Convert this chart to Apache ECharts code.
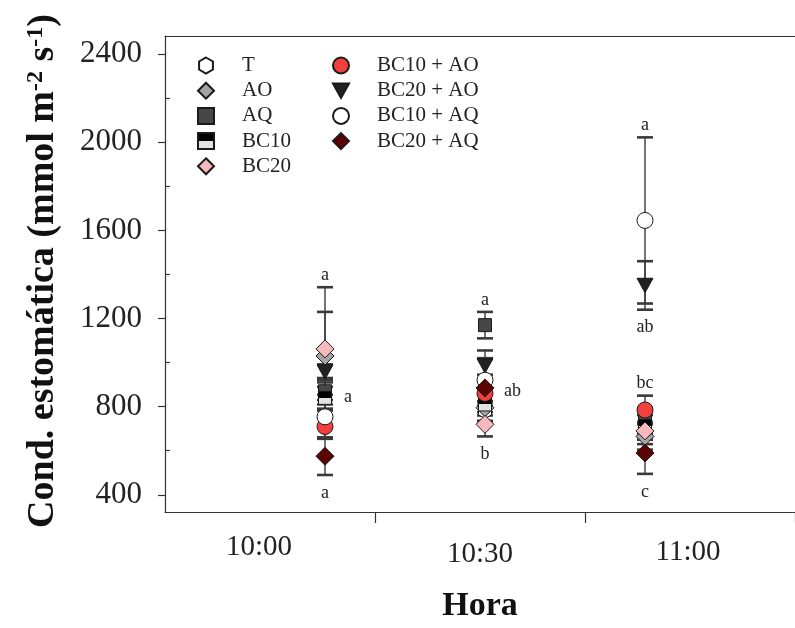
<!DOCTYPE html>
<html>
<head>
<meta charset="utf-8">
<script src="https://cdn.jsdelivr.net/npm/echarts@6/dist/echarts.min.js"></script>
<style>
  html, body { margin: 0; padding: 0; background: #ffffff; }
  #chart { width: 795px; height: 628px; }
</style>
</head>
<body>
<div id="chart"></div>
<script>
// Sampling times and their position on the time scale
const hours = ['10:00', '10:30', '11:00'];
const hourPos = [1, 2, 3];

// Y axis tick values (major labelled, minor unlabelled)
const yTicks = [400, 800, 1200, 1600, 2000, 2400];
const yMinorTicks = [600, 1000, 1400, 1800, 2200];

// Stomatal conductance (mmol m-2 s-1): mean and error per sampling time
const meanT = [850, 780, 680];
const errT = [60, 45, 50];
const meanAO = [1030, 795, 665];
const errAO = [200, 60, 60];
const meanAQ = [870, 1170, 735];
const errAQ = [60, 60, 60];
const meanBC10 = [840, 810, 712];
const errBC10 = [50, 50, 50];
const meanBC20 = [1062, 720, 690];
const errBC20 = [280, 55, 40];
const meanBC10AO = [710, 860, 785];
const errBC10AO = [50, 55, 65];
const meanBC20AO = [957, 985, 1350];
const errBC20AO = [35, 70, 110];
const meanBC10AQ = [754, 920, 1645];
const errBC10AQ = [100, 100, 377];
const meanBC20AQ = [575, 885, 590];
const errBC20AQ = [85, 60, 95];

// Treatment names, in plotting order
const treatmentNames = ['T', 'AO', 'AQ', 'BC10', 'BC20', 'BC10 + AO', 'BC20 + AO', 'BC10 + AQ', 'BC20 + AQ'];
const treatmentMeans = [meanT, meanAO, meanAQ, meanBC10, meanBC20, meanBC10AO, meanBC20AO, meanBC10AQ, meanBC20AQ];
const treatmentErrs = [errT, errAO, errAQ, errBC10, errBC20, errBC10AO, errBC20AO, errBC10AQ, errBC20AQ];

// Mean-separation letters: [time index, treatment it is attached to (null = whole group), placement, letter]
const letterTags = [
  [0, 'BC20', 'above', 'a'],
  [0, null, 'side', 'a'],
  [0, 'BC20 + AQ', 'below', 'a'],
  [1, 'AQ', 'above', 'a'],
  [1, null, 'side', 'ab'],
  [1, 'BC20', 'below', 'b'],
  [2, 'BC10 + AQ', 'above', 'a'],
  [2, 'BC20 + AO', 'below', 'ab'],
  [2, 'BC10 + AO', 'above', 'bc'],
  [2, 'BC20 + AQ', 'below', 'c']
];

const SERIF = "'Liberation Serif', 'Times New Roman', serif";
const hexagon = 'path://M0,-10L8.66,-5L8.66,5L0,10L-8.66,5L-8.66,-5Z';
const triangleDown = 'path://M0,0L10,0L5,9Z';
const halfFill = {
  type: 'linear', x: 0, y: 0, x2: 0, y2: 1,
  colorStops: [
    { offset: 0, color: '#000000' }, { offset: 0.5, color: '#000000' },
    { offset: 0.5, color: '#e2e2e2' }, { offset: 1, color: '#e2e2e2' }
  ]
};
const markerStyles = {
  'T':         { symbol: hexagon,      size: 15, color: '#ffffff' },
  'AO':        { symbol: 'diamond',    size: 18, color: '#a4a4a4' },
  'AQ':        { symbol: 'rect',       size: 13, color: '#474747' },
  'BC10':      { symbol: 'rect',       size: 13, color: halfFill },
  'BC20':      { symbol: 'diamond',    size: 18, color: '#f6b9bc' },
  'BC10 + AO': { symbol: 'circle',     size: 16, color: '#f2403f' },
  'BC20 + AO': { symbol: triangleDown, size: 16, color: '#222222' },
  'BC10 + AQ': { symbol: 'circle',     size: 16, color: '#ffffff' },
  'BC20 + AQ': { symbol: 'diamond',    size: 18, color: '#5c0303' }
};

// Error bar rows: [position, mean, error]
const errorRows = [];
treatmentNames.forEach(function (name, i) {
  hourPos.forEach(function (x, j) {
    errorRows.push([x, treatmentMeans[i][j], treatmentErrs[i][j]]);
  });
});

// Letter rows: [position, anchor value, letter, placement]
const letterRows = letterTags.map(function (tag) {
  const j = tag[0];
  let anchor;
  if (tag[1] === null) {
    anchor = treatmentMeans.reduce(function (s, m) { return s + m[j]; }, 0) / treatmentMeans.length;
  } else {
    const i = treatmentNames.indexOf(tag[1]);
    anchor = tag[2] === 'above' ? treatmentMeans[i][j] + treatmentErrs[i][j]
                                : treatmentMeans[i][j] - treatmentErrs[i][j];
  }
  return [hourPos[j], anchor, tag[3], tag[2]];
});

const scatterSeries = treatmentNames.map(function (name, i) {
  const st = markerStyles[name];
  return {
    name: name,
    type: 'scatter',
    xAxisIndex: 0,
    yAxisIndex: 0,
    symbol: st.symbol,
    symbolSize: st.size,
    symbolKeepAspect: true,
    z: 3,
    itemStyle: { color: st.color, borderColor: '#1a1a1a', borderWidth: 1, opacity: 1 },
    emphasis: { disabled: true },
    data: hourPos.map(function (x, j) { return [x, treatmentMeans[i][j]]; })
  };
});

const errorSeries = {
  type: 'custom',
  xAxisIndex: 0,
  yAxisIndex: 0,
  z: 2,
  silent: true,
  encode: { x: 0, y: 1 },
  data: errorRows,
  renderItem: function (params, api) {
    const x = api.value(0), m = api.value(1), e = api.value(2);
    const top = api.coord([x, m + e]);
    const bot = api.coord([x, m - e]);
    const half = 8;
    const lineStyle = { stroke: '#3a3a3a', lineWidth: 1.4 };
    const capStyle = { stroke: '#3a3a3a', lineWidth: 2.6 };
    return {
      type: 'group',
      children: [
        { type: 'line', shape: { x1: top[0], y1: top[1], x2: bot[0], y2: bot[1] }, style: lineStyle },
        { type: 'line', shape: { x1: top[0] - half, y1: top[1], x2: top[0] + half, y2: top[1] }, style: capStyle },
        { type: 'line', shape: { x1: bot[0] - half, y1: bot[1], x2: bot[0] + half, y2: bot[1] }, style: capStyle }
      ]
    };
  }
};

const letterSeries = {
  type: 'custom',
  xAxisIndex: 0,
  yAxisIndex: 0,
  z: 4,
  silent: true,
  encode: { x: 0, y: 1 },
  data: letterRows,
  renderItem: function (params, api) {
    const p = api.coord([api.value(0), api.value(1)]);
    const text = letterRows[params.dataIndex][2];
    const where = letterRows[params.dataIndex][3];
    let x = p[0], y = p[1], align = 'center', vAlign = 'middle';
    if (where === 'above') { y -= 3; vAlign = 'bottom'; }
    else if (where === 'below') { y += 9; vAlign = 'top'; }
    else { x += 19; y += 2; align = 'left'; }
    return {
      type: 'text',
      x: x, y: y,
      style: { text: text, fill: '#222222', font: '18px ' + SERIF, textAlign: align, textVerticalAlign: vAlign }
    };
  }
};

const legendBase = {
  orient: 'vertical', top: 55, padding: 0,
  itemWidth: 16, itemHeight: 16, itemGap: 4.2,
  symbolKeepAspect: true,
  selectedMode: false,
  textStyle: {
    fontFamily: SERIF, fontSize: 21, color: '#222222', lineHeight: 21,
    rich: { n: { fontFamily: SERIF, fontSize: 21, color: '#222222', lineHeight: 21, padding: [0, 0, 0, 23] } }
  },
  formatter: function (name) { return '{n|' + name + '}'; }
};

const frameLine = { show: true, onZero: false, lineStyle: { color: '#333333', width: 1.2 } };

const option = {
  backgroundColor: '#ffffff',
  animation: false,
  grid: { left: 165, top: 36, right: 0, bottom: 110, show: false },
  legend: [
    Object.assign({}, legendBase, { data: treatmentNames.slice(0, 5), left: 197 }),
    Object.assign({}, legendBase, { data: treatmentNames.slice(5), left: 332 })
  ],
  xAxis: [
    {
      // time scale used by the markers; its line closes the top of the frame
      type: 'value', gridIndex: 0, position: 'top', min: 0, max: 3.9375,
      axisLine: frameLine,
      axisTick: { show: false },
      axisLabel: { show: false },
      splitLine: { show: false }
    },
    {
      type: 'category', gridIndex: 0, position: 'bottom', data: hours, boundaryGap: true,
      axisLine: frameLine,
      axisTick: {
        show: true, length: 11, inside: false,
        interval: function (index) { return index !== 0; },
        lineStyle: { color: '#333333', width: 1.2 }
      },
      axisLabel: {
        interval: 0, margin: 21, color: '#222222', fontFamily: SERIF, fontSize: 29,
        formatter: function (value, index) { return '{h' + index + '|' + value + '}'; },
        rich: {
          h0: { fontFamily: SERIF, fontSize: 29, color: '#222222', padding: [0, 22, 0, 0] },
          h1: { fontFamily: SERIF, fontSize: 29, color: '#222222', padding: [7, 0, 0, 0] },
          h2: { fontFamily: SERIF, fontSize: 29, color: '#222222', padding: [5, 4, 0, 0] }
        }
      },
      splitLine: { show: false },
      name: 'Hora',
      nameLocation: 'middle',
      nameGap: 77,
      nameTextStyle: { fontFamily: SERIF, fontSize: 34, fontWeight: 'bold', color: '#111111' }
    }
  ],
  yAxis: [
    {
      type: 'value', gridIndex: 0, position: 'left', min: 322, max: 2482,
      axisLine: frameLine,
      axisTick: { show: true, inside: false, length: 7, customValues: yTicks, lineStyle: { color: '#333333', width: 1.2 } },
      axisLabel: {
        show: true, customValues: yTicks, margin: 23, color: '#222222', fontFamily: SERIF, fontSize: 31,
        padding: [4, 0, 0, 0],
        formatter: function (v) { return String(v); }
      },
      splitLine: { show: false },
      name: '{t|Cond. estomática (mmol m}{s|-2}{t| s}{s|-1}{t|)}',
      nameLocation: 'middle',
      nameRotate: 90,
      nameGap: 103,
      nameTextStyle: {
        padding: [0, 0, 0, 6],
        rich: {
          t: { fontFamily: SERIF, fontSize: 38, fontWeight: 'bold', color: '#111111' },
          s: { fontFamily: SERIF, fontSize: 24, fontWeight: 'bold', color: '#111111', verticalAlign: 'top' }
        }
      }
    },
    {
      type: 'value', gridIndex: 0, position: 'left', min: 322, max: 2482,
      axisLine: { show: false, onZero: false },
      axisTick: { show: true, inside: true, length: 5, customValues: yMinorTicks, lineStyle: { color: '#333333', width: 1.2 } },
      axisLabel: { show: false },
      splitLine: { show: false }
    }
  ],
  series: [errorSeries].concat(scatterSeries).concat([letterSeries])
};

const chart = echarts.init(document.getElementById('chart'), null, { renderer: 'canvas' });
chart.setOption(option);
</script>
</body>
</html>
